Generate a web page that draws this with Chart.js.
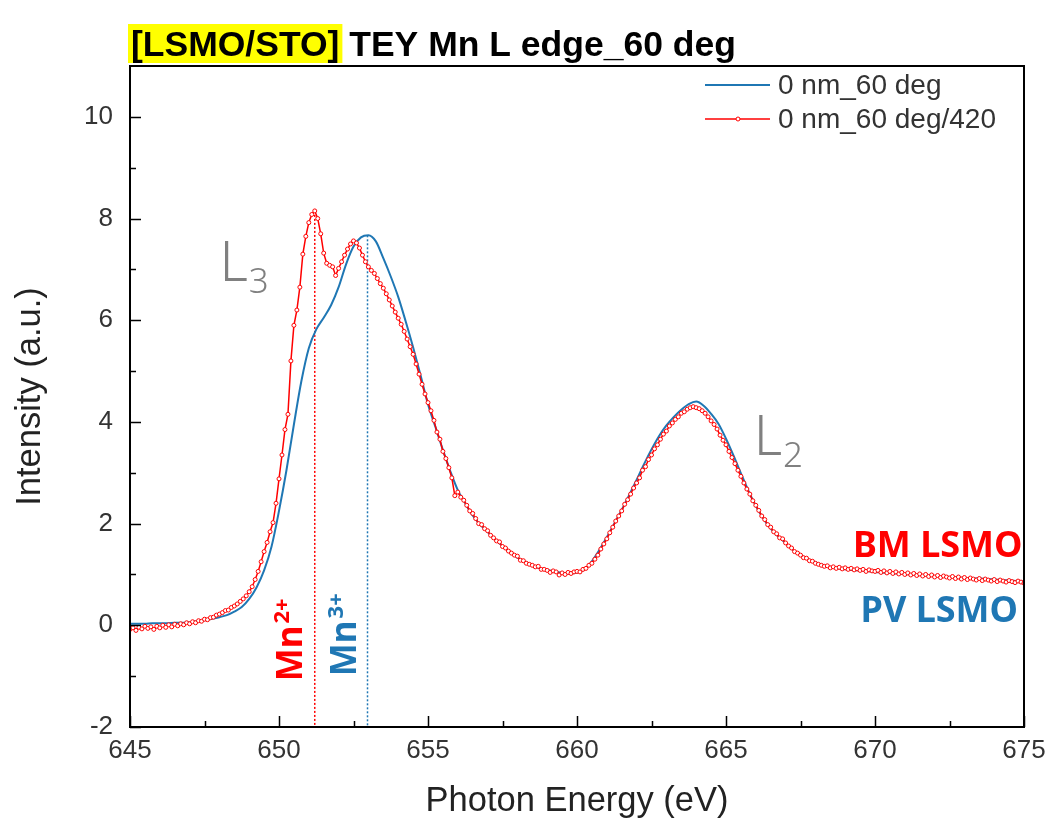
<!DOCTYPE html>
<html>
<head>
<meta charset="utf-8">
<title>TEY Mn L edge</title>
<script src="https://cdn.jsdelivr.net/npm/chart.js@4/dist/chart.umd.min.js"></script>
<style>
  html, body { margin: 0; padding: 0; background: #ffffff; }
  #wrap { width: 1051px; height: 824px; }
</style>
</head>
<body>
<div id="wrap"><canvas id="chart" width="1051" height="824"></canvas></div>
<script>
// ---- measured spectra -------------------------------------------------
// BM LSMO scan ("0 nm_60 deg/420"), 0.1 eV steps from 645.0 eV
const bmStart = 645.0;
const bmStep = 0.1;
const bmIntensity = [
  -0.08, -0.05, -0.10, -0.04, -0.07, -0.02, -0.06, -0.03, -0.08, -0.02,
  -0.05,  0.00, -0.04,  0.01, -0.03,  0.02, -0.01,  0.03,  0.01,  0.05,
   0.03,  0.07,  0.05,  0.09,  0.08,  0.12,  0.11,  0.15,  0.16,  0.20,
   0.22,  0.25,  0.29,  0.30,  0.35,  0.38,  0.42,  0.47,  0.52,  0.58,
   0.66,  0.76,  0.90,  1.06,  1.25,  1.45,  1.63,  1.84,  2.02,  2.40,
   2.88,  3.35,  3.85,  4.15,  5.20,  5.90,  6.20,  6.65,  7.30,  7.65,
   7.92,  8.08,  8.15,  8.00,  7.70,  7.32,  7.12,  7.08,  7.05,  6.88,
   7.02,  7.15,  7.28,  7.40,  7.50,  7.56,  7.52,  7.42,  7.28,  7.15,
   7.05,  6.98,  6.92,  6.82,  6.72,  6.63,  6.52,  6.40,  6.28,  6.16,
   6.04,  5.92,  5.78,  5.63,  5.48,  5.33,  5.14,  4.94,  4.74,  4.55,
   4.38,  4.22,  4.03,  3.80,  3.66,  3.42,  3.28,  3.10,  2.90,  2.55,
   2.62,  2.52,  2.46,  2.36,  2.25,  2.20,  2.10,  2.00,  1.98,  1.90,
   1.86,  1.77,  1.72,  1.66,  1.64,  1.55,  1.52,  1.46,  1.42,  1.38,
   1.36,  1.28,  1.27,  1.22,  1.20,  1.18,  1.15,  1.16,  1.10,  1.10,
   1.08,  1.04,  1.07,  1.05,  0.99,  1.03,  1.00,  1.04,  1.02,  1.05,
   1.06,  1.05,  1.10,  1.12,  1.18,  1.22,  1.30,  1.38,  1.50,  1.60,
   1.70,  1.82,  1.93,  2.05,  2.15,  2.25,  2.38,  2.47,  2.58,  2.70,
   2.80,  2.90,  3.05,  3.12,  3.26,  3.35,  3.47,  3.55,  3.66,  3.76,
   3.82,  3.92,  3.98,  4.05,  4.10,  4.17,  4.20,  4.25,  4.28,  4.30,
   4.28,  4.26,  4.22,  4.17,  4.10,  4.02,  3.95,  3.86,  3.74,  3.64,
   3.55,  3.42,  3.30,  3.18,  3.05,  2.93,  2.80,  2.68,  2.58,  2.45,
   2.36,  2.26,  2.15,  2.08,  1.98,  1.93,  1.84,  1.80,  1.72,  1.70,
   1.62,  1.56,  1.52,  1.45,  1.42,  1.38,  1.33,  1.32,  1.27,  1.26,
   1.22,  1.20,  1.18,  1.16,  1.17,  1.13,  1.15,  1.12,  1.14,  1.11,
   1.13,  1.10,  1.12,  1.09,  1.11,  1.08,  1.10,  1.06,  1.09,  1.07,
   1.06,  1.08,  1.04,  1.07,  1.03,  1.06,  1.02,  1.05,  1.01,  1.04,
   1.00,  1.03,  0.99,  1.02,  0.98,  1.01,  0.97,  1.00,  0.96,  0.99,
   0.95,  0.98,  0.94,  0.97,  0.95,  0.93,  0.96,  0.92,  0.95,  0.91,
   0.94,  0.90,  0.93,  0.91,  0.89,  0.92,  0.88,  0.91,  0.89,  0.87,
   0.90,  0.86,  0.89,  0.87,  0.85,  0.88,  0.86,  0.84,  0.87,  0.85,
   0.83
];

// PV LSMO scan ("0 nm_60 deg"), 0.25 eV steps from 645.0 eV
const pvStart = 645.0;
const pvStep = 0.25;
const pvIntensity = [
  0.03, 0.03, 0.03, 0.04, 0.04, 0.04, 0.05, 0.05, 0.06, 0.08,
  0.10, 0.13, 0.16, 0.20, 0.27, 0.36, 0.52, 0.75, 1.08, 1.55,
  2.25, 3.05, 3.95, 4.80, 5.45, 5.82, 6.05, 6.30, 6.65, 7.10,
  7.45, 7.63, 7.67, 7.55, 7.22, 6.86, 6.46, 5.98, 5.47, 4.92,
  4.35, 3.90, 3.45, 3.03, 2.66, 2.40, 2.16, 1.98, 1.84, 1.69,
  1.56, 1.44, 1.33, 1.25, 1.18, 1.12, 1.09, 1.06, 1.03, 1.02,
  1.04, 1.10, 1.26, 1.48, 1.73, 2.00, 2.27, 2.56, 2.86, 3.17,
  3.46, 3.72, 3.93, 4.10, 4.24, 4.35, 4.40, 4.32, 4.16, 3.96,
  3.67, 3.34, 2.99, 2.65, 2.35, 2.10, 1.90, 1.75, 1.62, 1.48,
  1.38, 1.30, 1.24, 1.18, 1.15, 1.12, 1.10, 1.09, 1.08, 1.07,
  1.05, 1.04, 1.03, 1.02, 1.01, 1.00, 0.99, 0.98, 0.97, 0.96,
  0.95, 0.94, 0.93, 0.92, 0.92, 0.91, 0.90, 0.89, 0.88, 0.87,
  0.86
];

// Peak markers: Mn2+ (BM L3 peak) and Mn3+ (PV L3 peak)
const mn2Energy = 651.2;
const mn2Peak = 8.15;
const mn3Energy = 652.97;
const mn3Peak = 7.67;

// Axes
const xRange = [645, 675];
const yRange = [-2, 11];
const xMajorTicks = [645, 650, 655, 660, 665, 670, 675];
const xMinorTicks = [647.5, 652.5, 657.5, 662.5, 667.5, 672.5];
const yMajorTicks = [-2, 0, 2, 4, 6, 8, 10];
const yMinorTicks = [-1, 1, 3, 5, 7, 9];

const seriesLabels = ['0 nm_60 deg', '0 nm_60 deg/420'];
const titleTag = '[LSMO/STO]';
const titleText = ' TEY Mn L edge_60 deg';
const xTitle = 'Photon Energy (eV)';
const yTitle = 'Intensity (a.u.)';

// ---- styling ------------------------------------------------------------
const RED = '#ff0000';
const BLUE = '#1f77b4';
const GRAY = '#808080';
const SANS = '"Liberation Sans", Arial, Helvetica, sans-serif';
const LABEL_SANS = '"Noto Sans", "Open Sans", sans-serif';

const toPoints = (start, step, values) =>
  values.map((v, i) => ({ x: +(start + i * step).toFixed(2), y: v }));

// ---- frame, inward ticks, title, legend, annotations -----------------------
const decorations = {
  id: 'decorations',
  afterDraw(chart) {
    const { ctx, chartArea: a, scales: { x, y } } = chart;
    ctx.save();

    // plot frame
    ctx.strokeStyle = '#000';
    ctx.lineWidth = 2;
    ctx.strokeRect(a.left, a.top, a.right - a.left, a.bottom - a.top);

    // inward ticks on the bottom and left axes
    ctx.lineWidth = 1.5;
    ctx.beginPath();
    const tickX = (v, len) => {
      const p = Math.round(x.getPixelForValue(v)) + 0.5;
      ctx.moveTo(p, a.bottom); ctx.lineTo(p, a.bottom - len);
    };
    const tickY = (v, len) => {
      const p = Math.round(y.getPixelForValue(v)) + 0.5;
      ctx.moveTo(a.left, p); ctx.lineTo(a.left + len, p);
    };
    xMajorTicks.forEach(v => tickX(v, 11));
    xMinorTicks.forEach(v => tickX(v, 6));
    yMajorTicks.forEach(v => tickY(v, 11));
    yMinorTicks.forEach(v => tickY(v, 6));
    ctx.stroke();

    // title with highlighted sample tag
    ctx.font = 'bold 35.5px ' + SANS;
    ctx.textBaseline = 'alphabetic';
    ctx.textAlign = 'left';
    const tagW = ctx.measureText(titleTag).width;
    ctx.fillStyle = '#ffff00';
    ctx.fillRect(a.left - 2, 24, tagW + 6, 39);
    ctx.fillStyle = '#000';
    ctx.fillText(titleTag, a.left + 1, 56);
    ctx.fillText(titleText, a.left + 1 + tagW, 56);

    // legend
    const ds = chart.data.datasets;
    const legendRows = [
      { d: ds.find(d => d.label === seriesLabels[0]), yPx: 85 },
      { d: ds.find(d => d.label === seriesLabels[1]), yPx: 119 }
    ];
    ctx.font = '28px ' + SANS;
    ctx.textBaseline = 'middle';
    legendRows.forEach(r => {
      ctx.strokeStyle = r.d.borderColor;
      ctx.lineWidth = r.d.borderWidth;
      ctx.beginPath();
      ctx.moveTo(705, r.yPx); ctx.lineTo(770, r.yPx);
      ctx.stroke();
      if (r.d.pointRadius > 0) {
        ctx.beginPath();
        ctx.arc(738, r.yPx, r.d.pointRadius, 0, Math.PI * 2);
        ctx.fillStyle = '#fff';
        ctx.fill();
        ctx.lineWidth = 1;
        ctx.stroke();
      }
      ctx.fillStyle = '#333';
      ctx.fillText(r.d.label, 778, r.yPx + 1);
    });

    // edge labels L3 and L2
    const edgeLabel = (sub, ex, ey) => {
      const px = x.getPixelForValue(ex), py = y.getPixelForValue(ey);
      ctx.fillStyle = GRAY;
      ctx.textBaseline = 'alphabetic';
      ctx.textAlign = 'left';
      ctx.font = '300 55px ' + LABEL_SANS;
      ctx.fillText('L', px, py);
      const w = ctx.measureText('L').width;
      ctx.font = '300 35px ' + LABEL_SANS;
      ctx.fillText(sub, px + w + 1, py + 12);
    };
    edgeLabel('3', 648.0, 6.78);
    edgeLabel('2', 665.93, 3.34);

    // sample labels
    ctx.font = 'bold 36px ' + LABEL_SANS;
    ctx.textAlign = 'right';
    ctx.textBaseline = 'alphabetic';
    ctx.fillStyle = RED;
    ctx.fillText('BM LSMO', x.getPixelForValue(674.95), y.getPixelForValue(1.34));
    ctx.fillStyle = BLUE;
    ctx.fillText('PV LSMO', x.getPixelForValue(674.8), y.getPixelForValue(0.06));

    // rotated valence labels next to the peak markers
    const valence = (base, sup, ex, ey, color) => {
      const px = x.getPixelForValue(ex), py = y.getPixelForValue(ey);
      ctx.save();
      ctx.translate(px, py);
      ctx.rotate(-Math.PI / 2);
      ctx.textAlign = 'left';
      ctx.fillStyle = color;
      ctx.font = 'bold 35px ' + LABEL_SANS;
      ctx.fillText(base, 0, 0);
      const w = ctx.measureText(base).width;
      ctx.font = 'bold 22px ' + LABEL_SANS;
      ctx.fillText(sup, w + 2, -13);
      ctx.restore();
    };
    valence('Mn', '2+', 650.76, -1.1, RED);
    valence('Mn', '3+', 652.6, -1.0, BLUE);

    ctx.restore();
  }
};

new Chart(document.getElementById('chart'), {
  type: 'line',
  data: {
    datasets: [
      {
        label: seriesLabels[1],
        data: toPoints(bmStart, bmStep, bmIntensity),
        borderColor: RED,
        borderWidth: 1.5,
        pointRadius: 2,
        pointBorderWidth: 1,
        pointBackgroundColor: '#ffffff',
        pointBorderColor: RED,
        tension: 0,
        order: 0
      },
      {
        label: seriesLabels[0],
        data: toPoints(pvStart, pvStep, pvIntensity),
        borderColor: BLUE,
        borderWidth: 2,
        pointRadius: 0,
        cubicInterpolationMode: 'monotone',
        order: 1
      },
      {
        label: 'Mn2+ marker',
        data: [{ x: mn2Energy, y: mn2Peak }, { x: mn2Energy, y: yRange[0] }],
        borderColor: RED,
        borderWidth: 1.5,
        borderDash: [2, 2],
        pointRadius: 0,
        order: 2
      },
      {
        label: 'Mn3+ marker',
        data: [{ x: mn3Energy, y: mn3Peak }, { x: mn3Energy, y: yRange[0] }],
        borderColor: BLUE,
        borderWidth: 1.5,
        borderDash: [2, 2],
        pointRadius: 0,
        order: 2
      }
    ]
  },
  options: {
    responsive: false,
    maintainAspectRatio: false,
    devicePixelRatio: 1,
    animation: false,
    events: [],
    layout: { padding: { top: 66, right: 27, left: 0, bottom: 0 } },
    plugins: { legend: { display: false }, tooltip: { enabled: false } },
    scales: {
      x: {
        type: 'linear',
        min: xRange[0],
        max: xRange[1],
        afterBuildTicks: s => { s.ticks = xMajorTicks.map(v => ({ value: v })); },
        afterFit: s => { s.height = 97; s.paddingLeft = 0; s.paddingRight = 0; },
        grid: { display: false, drawTicks: false },
        border: { display: false },
        ticks: { color: '#333', font: { family: SANS, size: 26 }, padding: 8, maxRotation: 0, autoSkip: false },
        title: { display: true, text: xTitle, color: '#222', font: { family: SANS, size: 34.5 }, padding: { top: 0, bottom: 2 } }
      },
      y: {
        type: 'linear',
        min: yRange[0],
        max: yRange[1],
        afterBuildTicks: s => { s.ticks = yMajorTicks.map(v => ({ value: v })); },
        afterFit: s => { s.width = 130; s.paddingTop = 0; s.paddingBottom = 0; },
        grid: { display: false, drawTicks: false },
        border: { display: false },
        ticks: { color: '#333', font: { family: SANS, size: 26 }, padding: 17 },
        title: { display: true, text: yTitle, color: '#222', font: { family: SANS, size: 34.5 }, padding: { top: 10, bottom: 0 } }
      }
    }
  },
  plugins: [decorations]
});
</script>
</body>
</html>
